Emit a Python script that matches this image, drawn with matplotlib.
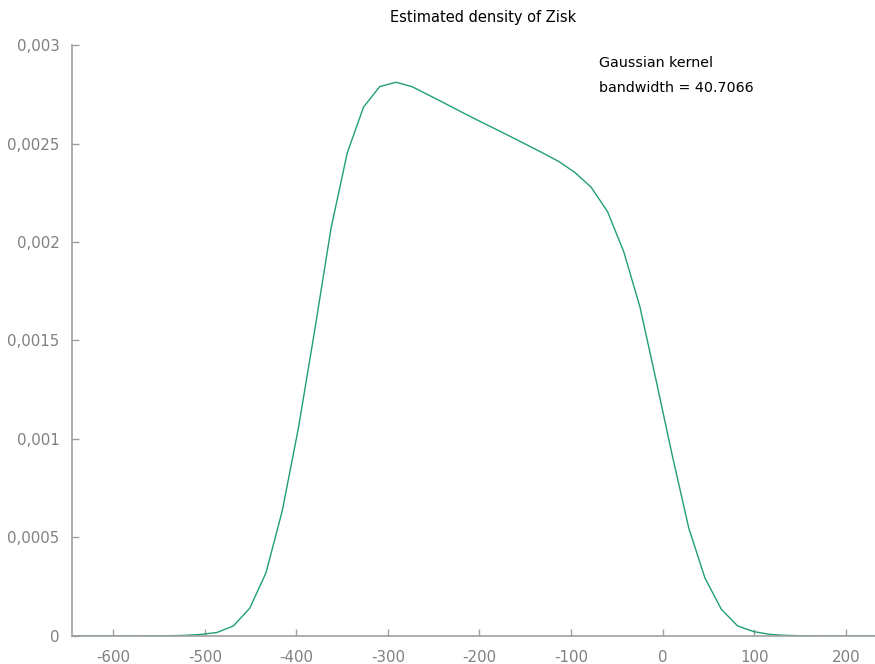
import matplotlib
matplotlib.use('Agg')
import matplotlib.pyplot as plt
from matplotlib.ticker import FuncFormatter

plt.rcParams['axes.unicode_minus'] = False

# kernel density estimate
x = [-646.3, -628.5, -610.8, -593.0, -575.3, -557.5, -539.7, -522.0, -504.2, -486.5,
     -468.7, -450.9, -433.2, -415.4, -397.7, -379.9, -362.1, -344.4, -326.6, -308.9,
     -291.1, -273.3, -255.6, -237.8, -220.1, -202.3, -184.5, -166.8, -149.0, -131.3,
     -113.5, -95.7, -78.0, -60.2, -42.5, -24.7, -6.9, 10.8, 28.6, 46.3,
     64.1, 81.9, 99.6, 117.4, 135.1, 152.9, 170.7, 188.4, 206.2, 223.9, 232.0]
dens = [0.0, 0.0, 0.0, 0.0, 0.0, 0.000001, 0.000001, 0.000003, 0.000008, 0.000018,
        0.000051, 0.000141, 0.000320, 0.000635, 0.001056, 0.001553, 0.002070, 0.002452, 0.002685, 0.002789,
        0.002811, 0.002788, 0.002746, 0.002704, 0.002661, 0.002619, 0.002578, 0.002537, 0.002495, 0.002453,
        0.002409, 0.002353, 0.002278, 0.002155, 0.001952, 0.001670, 0.001294, 0.000912, 0.000548, 0.000294,
        0.000136, 0.000051, 0.000022, 0.000008, 0.000003, 0.000001, 0.0, 0.0, 0.0, 0.0, 0.0]

xticks = [-600, -500, -400, -300, -200, -100, 0, 100, 200]
yticks = [0, 0.0005, 0.001, 0.0015, 0.002, 0.0025, 0.003]

fig = plt.figure(figsize=(8.75, 6.64), dpi=100)
ax = fig.add_axes([0.0823, 0.0422, 0.9177, 0.8900])

ax.plot(x, dens, color='#1f9e78', linewidth=1.0)

ax.set_xlim(-645, 232)
ax.set_ylim(0, 0.003)
ax.set_xticks(xticks)
ax.set_yticks(yticks)
ax.yaxis.set_major_formatter(FuncFormatter(lambda v, p: ('%g' % v).replace('.', ',')))

for s in ['top', 'right']:
    ax.spines[s].set_visible(False)
for s in ['left', 'bottom']:
    ax.spines[s].set_color('#a0a0a0')
    ax.spines[s].set_linewidth(1.2)
ax.tick_params(direction='in', length=5, width=1, color='#a0a0a0',
               labelcolor='#808080', labelsize=10.8)
ax.tick_params(axis='x', pad=10)
ax.tick_params(axis='y', pad=9)

fig.text(0.552, 0.973, 'Estimated density of Zisk', ha='center', va='center', fontsize=10.5)
fig.text(0.685, 0.905, 'Gaussian kernel', ha='left', va='center', fontsize=10.3)
fig.text(0.685, 0.868, 'bandwidth = 40.7066', ha='left', va='center', fontsize=10.3)

fig.savefig('out.png', dpi=100)
